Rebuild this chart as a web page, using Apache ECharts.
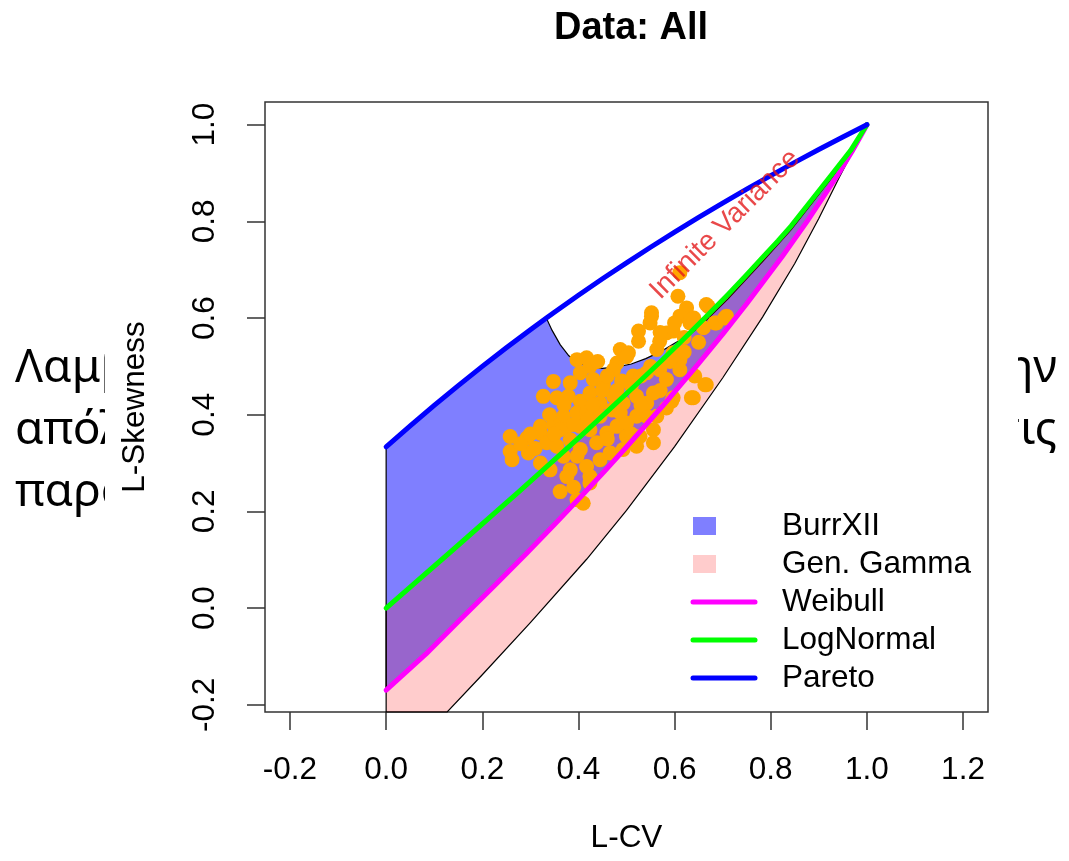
<!DOCTYPE html>
<html><head><meta charset="utf-8">
<script src="https://cdn.jsdelivr.net/npm/echarts@6/dist/echarts.min.js"></script>
<style>html,body{margin:0;padding:0;background:#fff}#c{width:1069px;height:861px}</style>
</head><body><div id="c"></div>
<script>
// ---------- data ----------
const xTicks = [-0.2, 0, 0.2, 0.4, 0.6, 0.8, 1.0, 1.2];
const yTicks = [-0.2, 0, 0.2, 0.4, 0.6, 0.8, 1.0];

// Pareto curve (L-CV, L-Skewness)
const paretoLine = [[0,0.3333],[0.05,0.3770],[0.1,0.4194],[0.15,0.4603],[0.2,0.5],[0.25,0.5385],[0.3,0.5758],[0.3333,0.6],
  [0.35,0.6119],[0.4,0.6471],[0.45,0.6812],[0.5,0.7143],[0.55,0.7465],[0.6,0.7778],[0.65,0.8082],[0.7,0.8378],
  [0.75,0.8667],[0.8,0.8947],[0.85,0.9221],[0.9,0.9487],[0.95,0.9747],[1,1]];
// LogNormal curve
const logNormalLine = [[0,0],[0.1403,0.1217],[0.2763,0.2409],[0.4041,0.3553],[0.5205,0.4625],[0.5738,0.5128],
  [0.6232,0.5609],[0.6691,0.6062],[0.7112,0.6488],[0.7491,0.6887],[0.7841,0.7265],[0.8151,0.7597],[0.8427,0.7909],
  [0.8868,0.8463],[0.9229,0.8917],[0.9661,0.9465],[1,1]];
// Weibull curve
const weibullLine = [[0,-0.1699],[0.0830,-0.0949],[0.1591,-0.0190],[0.2289,0.0497],[0.2929,0.1140],[0.3516,0.1744],
  [0.4054,0.2308],[0.4547,0.2837],[0.5,0.3333],[0.5796,0.4232],[0.6464,0.5016],[0.7027,0.5700],[0.75,0.6296],
  [0.8232,0.7264],[0.875,0.7989],[0.9375,0.8930],[0.9688,0.9440],[0.9922,0.9852],[1,1]];
// BurrXII upper edge beyond the Pareto part (infinite variance boundary)
const burrUpperEdge = [[0.345,0.575],[0.362,0.545],[0.38,0.522],[0.40,0.508],[0.425,0.499],[0.45,0.496],[0.48,0.499],
  [0.51,0.505],[0.54,0.516],[0.57,0.530],[0.60,0.548],[0.625,0.562],[0.65,0.580],[0.7112,0.640],[0.7841,0.718],
  [0.8427,0.783],[0.8868,0.839],[0.9229,0.885],[0.9661,0.941],[1,1]];
// Gen. Gamma lower edge
const genGammaLowerEdge = [[0.127,-0.215],[0.2,-0.138],[0.3,-0.030],[0.417,0.101],[0.5,0.202],[0.6,0.334],
  [0.7,0.476],[0.783,0.602],[0.85,0.713],[0.9,0.806],[0.943,0.892],[1,1]];
// Observed sample L-moment ratios
const observed = [[0.607,0.645],[0.625,0.621],[0.611,0.604],[0.552,0.604],[0.549,0.590],[0.525,0.573],[0.632,0.590],
  [0.670,0.624],[0.684,0.590],[0.708,0.604],[0.583,0.569],[0.597,0.573],[0.569,0.552],[0.525,0.552],[0.487,0.535],
  [0.504,0.528],[0.563,0.535],[0.597,0.528],[0.397,0.514],[0.417,0.518],[0.424,0.500],[0.480,0.507],[0.473,0.493],
  [0.404,0.487],[0.348,0.469],[0.383,0.466],[0.431,0.473],[0.452,0.462],[0.514,0.480],[0.542,0.487],[0.569,0.493],
  [0.583,0.473],[0.611,0.493],[0.611,0.514],[0.642,0.480],[0.666,0.462],[0.639,0.435],[0.327,0.438],[0.355,0.435],
  [0.379,0.438],[0.404,0.428],[0.424,0.445],[0.445,0.424],[0.473,0.438],[0.493,0.424],[0.521,0.438],[0.542,0.424],
  [0.556,0.445],[0.397,0.404],[0.417,0.404],[0.369,0.397],[0.321,0.376],[0.348,0.380],[0.376,0.376],[0.445,0.397],
  [0.487,0.404],[0.521,0.397],[0.563,0.397],[0.594,0.428],[0.258,0.355],[0.258,0.324],[0.262,0.307],[0.293,0.352],
  [0.296,0.321],[0.321,0.362],[0.334,0.342],[0.362,0.369],[0.355,0.335],[0.383,0.348],[0.404,0.376],[0.424,0.369],
  [0.404,0.328],[0.438,0.342],[0.459,0.362],[0.480,0.376],[0.500,0.383],[0.466,0.321],[0.493,0.328],[0.521,0.335],
  [0.556,0.369],[0.369,0.314],[0.397,0.314],[0.321,0.300],[0.341,0.286],[0.383,0.286],[0.417,0.293],[0.445,0.307],
  [0.376,0.272],[0.424,0.272],[0.362,0.241],[0.397,0.224],[0.424,0.259],[0.597,0.435],[0.583,0.414],[0.542,0.397],
  [0.556,0.342],[0.528,0.355],[0.500,0.355],[0.611,0.694],[0.552,0.611],[0.666,0.628],[0.663,0.462],[0.635,0.435],
  [0.687,0.590],[0.704,0.600],[0.45,0.45],[0.47,0.41],[0.43,0.42],[0.39,0.38],[0.35,0.36],[0.31,0.33],[0.28,0.34],
  [0.51,0.46],[0.53,0.48],[0.55,0.50],[0.59,0.51],[0.62,0.56],[0.64,0.60],[0.66,0.58],[0.46,0.48],[0.44,0.51],
  [0.50,0.52],[0.57,0.57],[0.60,0.59],[0.41,0.217],[0.39,0.25],[0.34,0.40],[0.37,0.42],[0.42,0.39],[0.48,0.45],
  [0.53,0.42],[0.57,0.45],[0.62,0.53],[0.65,0.55],[0.49,0.47],[0.46,0.35],[0.51,0.36],[0.30,0.36]];
const annotation = [[0.705, 0.7935, 'Infinite Variance']];
const legendNames = ['BurrXII', 'Gen. Gamma', 'Weibull', 'LogNormal', 'Pareto'];
const slideLeft = ['Λαμβάνοντας', 'απόλυτη', 'παρατηρήσεις'];
const slideRight = ['την', 'τις'];

// ---------- chart ----------
const FONT = 'Liberation Sans, Arial, sans-serif';
const Y_MIN = -0.215, Y_MAX = 1.047, X_MIN = -0.252, X_MAX = 1.252;
const C_BURR = 'rgba(0,0,255,0.5)', C_GG = 'rgba(255,0,0,0.2)';
const C_WEI = '#FF00FF', C_LN = '#00FF00', C_PAR = '#0000FF';

const burrPolygon = [[0, weibullLine[0][1]]]
  .concat(paretoLine.filter(p => p[0] <= 0.3334))
  .concat(burrUpperEdge)
  .concat(weibullLine.slice().reverse());
const ggPolygon = logNormalLine.slice()
  .concat(genGammaLowerEdge.slice().reverse())
  .concat([[0, Y_MIN]]);

function polygonSeries(name, pts, fill, z) {
  return {
    type: 'custom', name, z, silent: true, coordinateSystem: 'cartesian2d',
    data: [[0.5, 0.5]],
    renderItem: (params, api) => ({
      type: 'polygon',
      shape: { points: pts.map(p => api.coord(p)) },
      style: { fill, stroke: '#000', lineWidth: 1.2 }
    })
  };
}
function lineSeries(name, pts, color, z) {
  return {
    type: 'line', name, z, data: pts, showSymbol: false, symbol: 'none', silent: true,
    lineStyle: { color, width: 5, cap: 'round', join: 'round' }
  };
}

const chart = echarts.init(document.getElementById('c'), null, { renderer: 'canvas' });

const rowY = [526, 564, 602, 640, 678];
const legendGraphics = [
  { type: 'rect', shape: { x: 693, y: rowY[0] - 9, width: 23, height: 18 }, style: { fill: C_BURR }, z: 20 },
  { type: 'rect', shape: { x: 693, y: rowY[1] - 9, width: 23, height: 18 }, style: { fill: C_GG }, z: 20 },
  { type: 'line', shape: { x1: 693, y1: rowY[2], x2: 755, y2: rowY[2] }, style: { stroke: C_WEI, lineWidth: 5, lineCap: 'round' }, z: 20 },
  { type: 'line', shape: { x1: 693, y1: rowY[3], x2: 755, y2: rowY[3] }, style: { stroke: C_LN, lineWidth: 5, lineCap: 'round' }, z: 20 },
  { type: 'line', shape: { x1: 693, y1: rowY[4], x2: 755, y2: rowY[4] }, style: { stroke: C_PAR, lineWidth: 5, lineCap: 'round' }, z: 20 }
].concat(legendNames.map((n, i) => ({
  type: 'text', x: 782, y: rowY[i], z: 20,
  style: { text: n, font: '31.5px ' + FONT, fill: '#000', verticalAlign: 'middle', align: 'left' }
})));

const slideGraphics = [
  { type: 'rect', shape: { x: 105, y: 0, width: 913, height: 861 }, style: { fill: '#fff' }, z: -1 }
].concat(slideLeft.map((t, i) => ({
  type: 'text', x: 15, y: 369 + i * 62, z: -2,
  style: { text: t, font: '46px Noto Sans', fill: '#000', verticalAlign: 'middle', align: 'left' }
}))).concat(slideRight.map((t, i) => ({
  type: 'text', x: 1057, y: 369 + i * 62, z: -2,
  style: { text: t, font: '46px Noto Sans', fill: '#000', verticalAlign: 'middle', align: 'right' }
})));

const axisCommon = {
  type: 'value',
  axisLine: { show: false, onZero: false },
  splitLine: { show: false },
  nameLocation: 'middle',
  nameTextStyle: { fontSize: 31.5, color: '#000', fontFamily: FONT }
};

chart.setOption({
  animation: false,
  backgroundColor: 'transparent',
  title: {
    text: 'Data: All', left: 626, top: 5, textAlign: 'center',
    textStyle: { fontSize: 38, fontWeight: 'bold', color: '#000', fontFamily: FONT }
  },
  grid: { left: 265, top: 102, width: 723, height: 610, show: true, borderColor: '#333', borderWidth: 1.5, backgroundColor: 'transparent' },
  xAxis: Object.assign({}, axisCommon, {
    min: X_MIN, max: X_MAX, name: 'L-CV', nameGap: 110,
    axisTick: { show: true, inside: false, length: 18, customValues: xTicks, lineStyle: { color: '#333', width: 1.5 } },
    axisLabel: { customValues: xTicks, margin: 42, fontSize: 31.5, color: '#000', fontFamily: FONT, formatter: v => v.toFixed(1) }
  }),
  yAxis: Object.assign({}, axisCommon, {
    min: Y_MIN, max: Y_MAX, name: 'L-Skewness', nameGap: 114,
    axisTick: { show: true, inside: false, length: 18, customValues: yTicks, lineStyle: { color: '#333', width: 1.5 } },
    axisLabel: { customValues: yTicks, rotate: 90, margin: 44, fontSize: 31.5, color: '#000', fontFamily: FONT, formatter: v => v.toFixed(1) }
  }),
  graphic: { elements: slideGraphics.concat(legendGraphics) },
  series: [
    polygonSeries('BurrXII', burrPolygon, C_BURR, 1),
    polygonSeries('Gen. Gamma', ggPolygon, C_GG, 2),
    {
      type: 'scatter', name: 'Data', z: 3, silent: true, data: observed, symbolSize: 15,
      itemStyle: { color: '#FFA500', opacity: 1 }
    },
    lineSeries('Weibull', weibullLine, C_WEI, 4),
    lineSeries('LogNormal', logNormalLine, C_LN, 4),
    lineSeries('Pareto', paretoLine, C_PAR, 5),
    {
      type: 'scatter', name: 'annotation', z: 6, silent: true, symbolSize: 0,
      data: annotation.map(a => ({ value: [a[0], a[1]], label: { formatter: a[2] } })),
      label: { show: true, position: 'inside', rotate: 45, fontSize: 28, color: '#E41A1C', fontFamily: FONT }
    }
  ]
});
</script>
</body></html>
